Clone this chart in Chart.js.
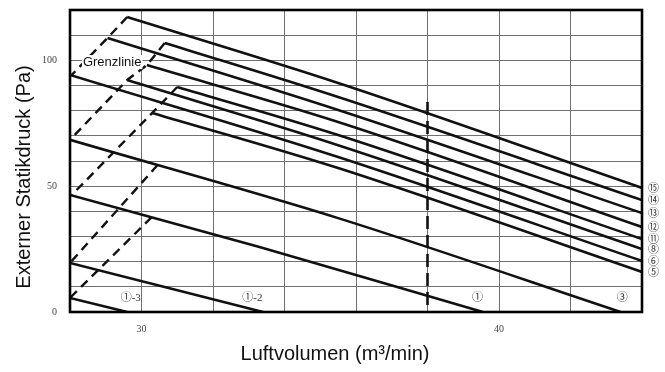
<!DOCTYPE html>
<html>
<head>
<meta charset="utf-8">
<script src="https://cdn.jsdelivr.net/npm/chart.js@4"></script>
<style>
  body { margin: 0; background: #fff; }
</style>
</head>
<body>
<canvas id="fanChart" width="665" height="372"></canvas>
<script>
// fan curves (Luftvolumen m3/min -> Pa)
const curveNames = ['⑮', '⑭', '⑬', '⑫', '⑪', '⑧', '⑥', '⑤', '③', '①', '①-2', '①-3'];
const curveX = [
  [29.6, 35.5, 44],
  [30.65, 35.5, 44],
  [29.05, 35.5, 44],
  [30.15, 35.5, 44],
  [31.0, 35.5, 44],
  [29.6, 35.5, 44],
  [28, 35.5, 44],
  [30.3, 35.5, 44],
  [28, 35.5, 43.4],
  [28, 33.3, 39.55],
  [28, 33.4],
  [28, 29.6]
];
const curveY = [
  [117.2, 91.0, 49.3],
  [106.9, 85.4, 44.5],
  [108.9, 80.3, 39.3],
  [98.1, 75.5, 33.8],
  [89.4, 70.3, 29.0],
  [92.2, 66.3, 25.0],
  [94.2, 61.6, 20.3],
  [79.1, 57.2, 15.9],
  [68.4, 37.3, 0],
  [46.5, 25.8, 0],
  [19.5, 0],
  [5.6, 0]
];
// curves that carry their name at the right edge
const rightLabelled = ['⑮', '⑭', '⑬', '⑫', '⑪', '⑧', '⑥', '⑤'];

// Grenzlinie (dashed limit lines)
const limitX = [
  [29.6, 29.05, 28.05],
  [30.65, 30.15, 29.6, 28],
  [31.0, 30.3, 28.05],
  [30.45, 28],
  [30.28, 28]
];
const limitY = [
  [117.2, 108.9, 94.2],
  [106.9, 98.1, 92.2, 68.4],
  [89.4, 79.1, 46.5],
  [58.4, 19.5],
  [37.6, 5.6]
];
const markerX = [38, 38];
const markerY = [83.4, 0];

const bottomLabels = ['①-3', '①-2', '①', '③'];
const bottomLabelX = [29.7, 33.1, 39.4, 43.45];
const bottomLabelY = 5.6;

const toPoints = (xs, ys) => xs.map((x, i) => ({ x: x, y: ys[i] }));

const datasets = [];
curveNames.forEach((name, i) => {
  datasets.push({
    label: name,
    data: toPoints(curveX[i], curveY[i]),
    borderColor: '#111',
    borderWidth: 2.6,
    cubicInterpolationMode: 'monotone'
  });
});
limitX.forEach((xs, i) => {
  datasets.push({
    label: 'Grenzlinie ' + (i + 1),
    data: toPoints(xs, limitY[i]),
    borderColor: '#111',
    borderWidth: 2.4,
    borderDash: [9, 6]
  });
});
datasets.push({
  label: 'marker',
  data: toPoints(markerX, markerY),
  borderColor: '#111',
  borderWidth: 2.6,
  borderDash: [13, 6]
});

const labelPlugin = {
  id: 'labels',
  afterDatasetsDraw(chart) {
    const { ctx, chartArea: a, scales: { x, y } } = chart;
    ctx.save();
    // outer frame
    ctx.lineWidth = 2.6;
    ctx.strokeStyle = '#000';
    ctx.strokeRect(a.left, a.top, a.right - a.left, a.bottom - a.top);

    // curve names on the right
    ctx.fillStyle = '#333';
    ctx.font = '11px "Liberation Serif", "Noto Sans CJK JP", serif';
    ctx.textAlign = 'left';
    ctx.textBaseline = 'middle';
    rightLabelled.forEach(name => {
      const i = curveNames.indexOf(name);
      const ys = curveY[i];
      ctx.fillText(name, a.right + 6, y.getPixelForValue(ys[ys.length - 1]) + 1);
    });

    // names along the bottom
    ctx.textAlign = 'center';
    bottomLabels.forEach((t, i) => {
      ctx.fillText(t, x.getPixelForValue(bottomLabelX[i]), y.getPixelForValue(bottomLabelY));
    });

    // Grenzlinie text with a white box
    ctx.font = '13px "Liberation Sans", Arial, sans-serif';
    const gx = x.getPixelForValue(29.18), gy = y.getPixelForValue(99.3);
    const w = ctx.measureText('Grenzlinie').width;
    ctx.fillStyle = '#fff';
    ctx.fillRect(gx - w / 2 - 1, gy - 7, w + 2, 14);
    ctx.fillStyle = '#111';
    ctx.fillText('Grenzlinie', gx, gy);

    // axis titles
    ctx.font = '20px "Liberation Sans", Arial, sans-serif';
    ctx.fillText('Luftvolumen (m³/min)', 335, 354);
    ctx.translate(24, 177);
    ctx.rotate(-Math.PI / 2);
    ctx.fillText('Externer Statikdruck (Pa)', 0, 0);
    ctx.restore();
  }
};

new Chart(document.getElementById('fanChart').getContext('2d'), {
  type: 'scatter',
  data: { datasets: datasets },
  options: {
    responsive: false,
    animation: false,
    showLine: true,
    elements: { point: { radius: 0 } },
    layout: { padding: { left: 0, right: 23, top: 10, bottom: 0 } },
    plugins: {
      legend: { display: false },
      tooltip: { enabled: false }
    },
    scales: {
      x: {
        type: 'linear',
        min: 28,
        max: 44,
        afterFit: scale => {
          scale.height = 60;
          scale.paddingLeft = 0;
          scale.paddingRight = 0;
        },
        border: { display: false },
        grid: { color: '#707070', lineWidth: 1, drawTicks: false },
        ticks: {
          stepSize: 2,
          padding: 11,
          maxRotation: 0,
          autoSkip: false,
          color: '#444',
          font: { family: '"Liberation Serif", serif', size: 10 },
          callback: v => (v === 30 || v === 40) ? v : ''
        }
      },
      y: {
        type: 'linear',
        min: 0,
        max: 120,
        afterFit: scale => {
          scale.width = 70;
          scale.paddingTop = 0;
          scale.paddingBottom = 0;
        },
        border: { display: false },
        grid: { color: '#707070', lineWidth: 1, drawTicks: false },
        ticks: {
          stepSize: 10,
          padding: 13,
          autoSkip: false,
          color: '#444',
          font: { family: '"Liberation Serif", serif', size: 10 },
          callback: v => v % 50 === 0 ? v : ''
        }
      }
    }
  },
  plugins: [labelPlugin]
});
</script>
</body>
</html>
